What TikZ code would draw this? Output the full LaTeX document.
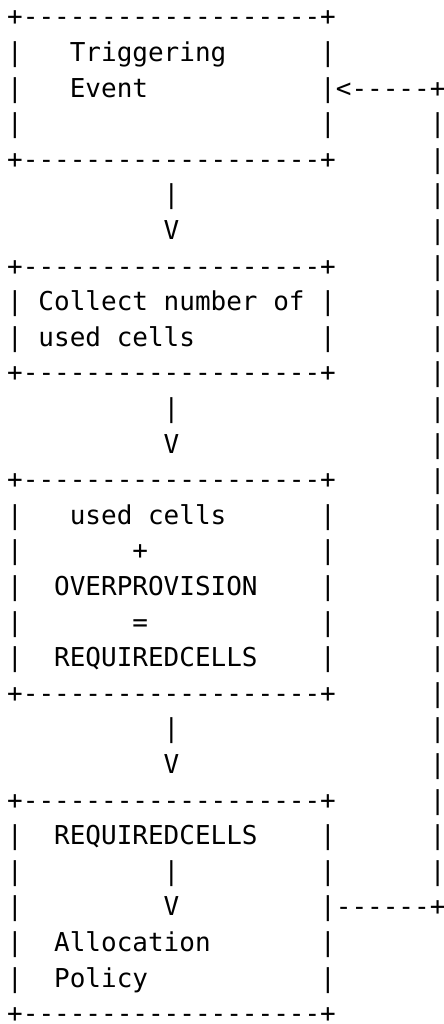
\documentclass[tikz,border=0pt]{standalone}
\usepackage{fontspec}
\setmonofont{DejaVu Sans Mono}[Ligatures=TeXOff]

\tikzset{
  ascii/.style={inner sep=0pt, outer sep=0pt, anchor=base west,
    font=\ttfamily\fontsize{13}{13}\selectfont}
}
% put one piece of text at row #2, column #3
\newcommand{\asc}[4]{\node[ascii] (#1) at ({7.2+15.65*(#3)},{25.8+35.6*(#2)}) {#4};}

\begin{document}
\begin{tikzpicture}[x=0.5pt, y=-0.5pt]
  % page frame
  \useasboundingbox (0,0) rectangle (444,1024);

  % top and bottom edges of the boxes
  \foreach \r/\n in {0/a, 4/b, 7/c, 10/d, 13/e, 19/f, 22/g, 28/h} {
    \asc{edge\n}{\r}{0}{+-------------------+}
  }
  % left and right sides
  \foreach \r in {1,2,3,8,9,14,15,16,17,18,23,24,25,26,27} {
    \asc{left\r}{\r}{0}{|}
  }
  \foreach \r in {1,3,8,9,14,15,16,17,18,23,24,26,27} {
    \asc{right\r}{\r}{20}{|}
  }

  % arrows between the boxes
  \foreach \r/\n in {5/a, 11/b, 20/c} {
    \asc{stem\n}{\r}{10}{|}
    \asc{head\n}{\r+1}{10}{V}
  }

  % feedback loop on the right
  \asc{back}{2}{20}{|<-----+}
  \foreach \r in {3,...,24} {
    \asc{loop\r}{\r}{27}{|}
  }
  \asc{out}{25}{20}{|------+}

  % box texts
  \asc{trig}{1}{4}{Triggering}
  \asc{event}{2}{4}{Event}
  \asc{collect}{8}{2}{Collect number of}
  \asc{used}{9}{2}{used cells}
  \asc{sumused}{14}{4}{used cells}
  \asc{plus}{15}{8}{+}
  \asc{over}{16}{3}{OVERPROVISION}
  \asc{equals}{17}{8}{=}
  \asc{req}{18}{3}{REQUIREDCELLS}
  \asc{reqin}{23}{3}{REQUIREDCELLS}
  \asc{pipe}{24}{10}{|}
  \asc{down}{25}{10}{V}
  \asc{alloc}{26}{3}{Allocation}
  \asc{policy}{27}{3}{Policy}
\end{tikzpicture}
\end{document}
